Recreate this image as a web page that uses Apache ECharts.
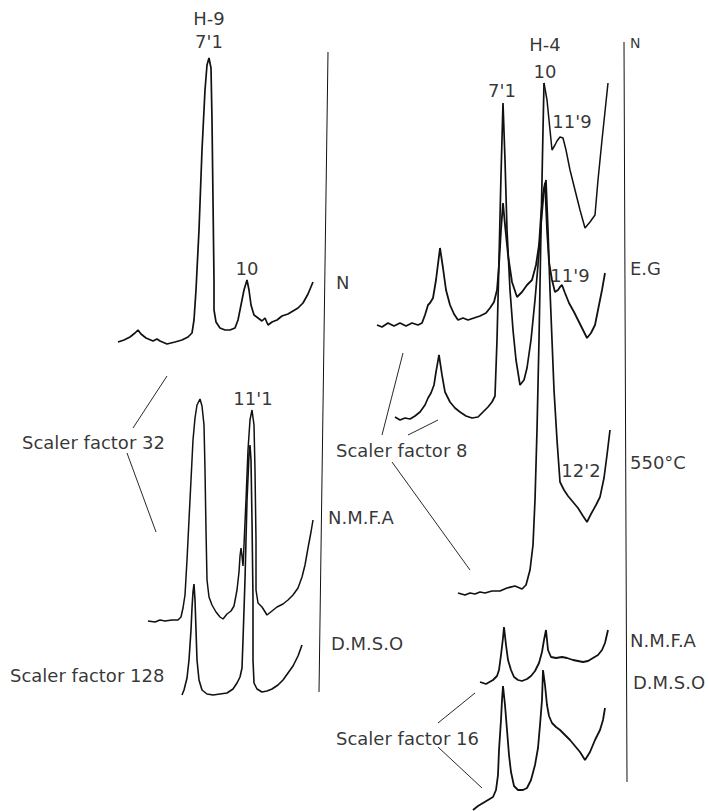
<!DOCTYPE html>
<html>
<head>
<meta charset="utf-8">
<script src="https://cdn.jsdelivr.net/npm/echarts@6/dist/echarts.min.js"></script>
<style>
  html, body { margin: 0; padding: 0; background: #fff; }
  #chart { width: 709px; height: 811px; }
</style>
</head>
<body>
<div id="chart"></div>
<script>
// traces, in figure units (x right, y down)
const h9N = [[118,342],[124,340],[130,337],[135,333],[138,330],[141,334],[146,338],[153,341],[157,339],[160,341],[167,344],[175,342],[182,340],[188,337],[192,333],[194,320],[196,290],[199,230],[202,150],[205,90],[207,65],[209,58],[211,68],[212,120],[213,200],[214,280],[214,310],[216,322],[220,328],[225,330],[230,330],[235,328],[238,320],[241,305],[244,290],[247,280],[249,290],[251,305],[254,315],[258,318],[262,321],[265,318],[268,325],[272,322],[277,320],[282,316],[288,314],[293,311],[298,308],[303,303],[308,294],[313,282]]
const h9Nmfa = [[148,621],[155,622],[160,620],[165,621],[172,620],[178,620],[181,617],[183,608],[185,595],[187,560],[189,520],[191,480],[193,440],[195,418],[197,405],[200,399],[202,406],[204,425],[205,470],[206,530],[207,580],[209,597],[212,605],[216,612],[220,617],[223,619],[227,614],[231,611],[234,606],[237,590],[239,572],[240,556],[241,548],[242,556],[243,566],[244,545],[246,500],[248,450],[250,420],[252,410],[254,425],[255,470],[256,540],[256,590],[258,603],[262,607],[267,615],[272,611],[277,607],[283,604],[288,600],[293,595],[298,588],[302,577],[305,565],[308,548],[311,532],[313,520]]
const h9Dmso = [[182,695],[184,690],[187,678],[189,660],[191,630],[192,608],[193,592],[194,584],[195,600],[196,630],[197,660],[199,680],[202,690],[207,694],[213,695],[220,694],[227,693],[233,689],[237,683],[240,677],[242,668],[243,640],[245,580],[247,500],[249,455],[250,445],[251,460],[252,520],[253,600],[253,660],[254,683],[257,689],[262,692],[267,691],[272,689],[278,685],[283,680],[288,673],[293,666],[298,656],[302,645]]

const h4N = [[544,83],[547,100],[550,130],[552,150],[555,145],[557,141],[560,137],[563,138],[566,150],[570,170],[575,190],[580,210],[585,228],[590,222],[595,215],[598,180],[602,140],[608,83]]
const h4Eg = [[377,325],[382,327],[388,323],[394,326],[400,323],[406,326],[412,323],[418,325],[422,323],[425,315],[428,305],[430,303],[433,298],[436,280],[440,248],[443,268],[446,290],[450,305],[454,314],[458,320],[463,318],[468,320],[474,318],[480,316],[486,313],[490,308],[494,302],[497,290],[499,265],[501,230],[503,203],[505,225],[508,255],[512,282],[517,297],[522,292],[527,285],[532,280],[536,265],[539,245],[541,215],[543,195],[545,183],[547,230],[549,262],[552,280],[555,292],[558,290],[560,287],[562,285],[565,293],[569,303],[574,312],[579,322],[584,332],[587,338],[591,333],[595,325],[599,305],[602,290],[605,273]]
const h4Heated = [[395,417],[400,420],[405,418],[410,419],[415,416],[420,412],[425,405],[428,398],[431,393],[434,385],[436,372],[439,355],[442,375],[445,392],[450,402],[455,408],[460,412],[466,416],[472,418],[478,417],[483,412],[488,407],[492,402],[495,396],[497,340],[499,260],[501,175],[503,103],[505,160],[507,230],[510,290],[513,330],[516,360],[520,385],[524,380],[527,368],[531,340],[535,300],[538,265],[541,225],[544,190],[546,180],[548,230],[550,290],[552,340],[554,390],[557,440],[560,482],[564,490],[568,496],[573,502],[578,508],[583,516],[587,522],[591,514],[596,505],[600,497],[604,478],[607,455],[610,430]]
const h4Nmfa = [[458,593],[465,595],[470,593],[475,594],[480,592],[485,593],[492,591],[500,591],[507,588],[515,586],[522,589],[526,585],[530,570],[533,545],[535,500],[537,430],[539,340],[541,230],[543,130],[544,83]]
const h4Dmso = [[480,682],[486,684],[493,680],[497,676],[499,670],[501,655],[503,638],[504,627],[506,645],[508,660],[511,670],[514,677],[518,680],[522,681],[527,679],[531,676],[535,671],[539,663],[542,652],[544,640],[546,630],[548,650],[551,657],[556,658],[562,657],[567,658],[573,660],[578,661],[583,662],[588,661],[593,658],[598,655],[602,650],[605,643],[608,630]]
const h4Dmso16 = [[473,810],[478,806],[483,803],[488,800],[493,797],[496,790],[498,775],[499,750],[501,720],[502,700],[503,686],[505,705],[507,730],[509,755],[511,772],[514,786],[518,790],[523,790],[527,788],[531,780],[535,765],[538,748],[540,725],[542,700],[543,670],[545,685],[547,705],[549,716],[552,723],[556,727],[560,730],[565,735],[570,740],[575,746],[580,752],[585,760],[590,752],[595,740],[600,730],[603,720],[605,708]]

// baselines (the vertical rules) and leader lines
const h9Rule = [[328,52],[319,692]]
const h4Rule = [[624,42],[627,782]]
const leaders = [
  [[167,376],[133,428]],
  [[127,453],[156,532]],
  [[403,353],[382,435]],
  [[408,435],[438,420]],
  [[392,462],[470,570]],
  [[438,723],[475,693]],
  [[438,747],[482,788]],
]

// text
const peakLabels = [['H-9',209,18],["7'1",209,41],['10',247,268],["11'1",253,398],['H-4',545,44],['10',545,71],["7'1",502,90],["11'9",572,121],["11'9",570,275],["12'2",581,470]]
const sideLabels = [['N',336,282],['N.M.F.A',328,517],['D.M.S.O',331,643],['E.G',630,268],['550°C',630,462],['N.M.F.A',630,640],['D.M.S.O',633,682]]
const smallLabels = [['N',630,43]]
const scalerLabels = [['Scaler factor 32',22,442],['Scaler factor 128',10,675],['Scaler factor 8',336,450],['Scaler factor 16',336,738]]

const ink = '#000'
const font = 'DejaVu Sans'

function trace(name, data, width) {
  return {
    name,
    type: 'line',
    data,
    symbol: 'none',
    silent: true,
    lineStyle: { color: '#111', width: width || 1.5 },
  }
}

function textLayer(items, align, size) {
  return {
    type: 'scatter',
    symbolSize: 0,
    silent: true,
    data: items.map((t) => ({ name: t[0], value: [t[1], t[2]] })),
    label: {
      show: true,
      position: 'inside',
      formatter: '{b}',
      align,
      verticalAlign: 'middle',
      color: ink,
      fontFamily: font,
      fontSize: size,
    },
  }
}

const chart = echarts.init(document.getElementById('chart'), null, { renderer: 'svg' })

const option = {
  backgroundColor: '#fff',
  animation: false,
  grid: { left: 0, right: 0, top: 0, bottom: 0 },
  xAxis: { type: 'value', min: 0, max: 709, show: false },
  yAxis: { type: 'value', min: 0, max: 811, inverse: true, show: false },
  series: [
    trace('H-9 N', h9N, 1.7),
    trace('H-9 N.M.F.A', h9Nmfa, 1.5),
    trace('H-9 D.M.S.O', h9Dmso, 1.6),
    trace('H-4 N', h4N, 1.5),
    trace('H-4 E.G', h4Eg, 1.8),
    trace('H-4 550°C', h4Heated, 1.7),
    trace('H-4 N.M.F.A', h4Nmfa, 1.7),
    trace('H-4 D.M.S.O', h4Dmso, 1.8),
    trace('H-4 D.M.S.O x16', h4Dmso16, 1.8),
    trace('rule H-9', h9Rule, 1),
    trace('rule H-4', h4Rule, 1),
    ...leaders.map((l, i) => trace('leader ' + i, l, 0.9)),
    textLayer(peakLabels, 'center', 18),
    textLayer(sideLabels, 'left', 18),
    textLayer(smallLabels, 'left', 14),
    textLayer(scalerLabels, 'left', 18),
  ],
}

option && chart.setOption(option)
</script>
</body>
</html>
